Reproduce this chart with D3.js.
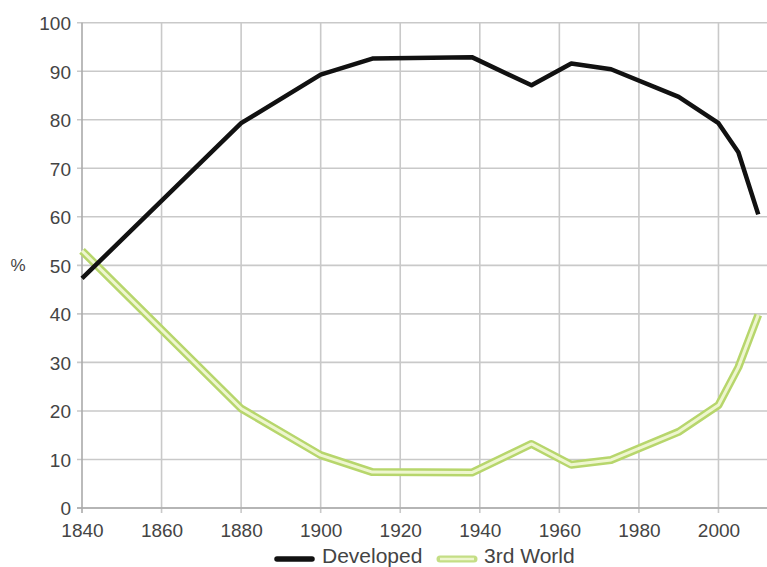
<!DOCTYPE html>
<html>
<head>
<meta charset="utf-8">
<script src="https://cdn.jsdelivr.net/npm/d3@7"></script>
<style>
  html, body { margin: 0; padding: 0; background: #fff; }
  svg { display: block; }
  text { font-family: "Liberation Sans", Arial, sans-serif; fill: #444; }
</style>
</head>
<body>
<svg id="chart" width="767" height="567"></svg>
<script>
// Data
const years     = [1840, 1880, 1900, 1913, 1938, 1953, 1963, 1973, 1990, 2000, 2005, 2010];
const developed = [47.3, 79.3, 89.3, 92.6, 92.9, 87.1, 91.6, 90.4, 84.7, 79.3, 73.3, 60.5];
const thirdWorld= [53.0, 20.5, 10.9, 7.4, 7.3, 13.2, 8.9, 9.9, 15.7, 21.2, 29.0, 39.8];
const xTicks    = [1840, 1860, 1880, 1900, 1920, 1940, 1960, 1980, 2000];
const yTicks    = [0, 10, 20, 30, 40, 50, 60, 70, 80, 90, 100];
const seriesNames = ["Developed", "3rd World"];

const svg = d3.select("#chart");
const pL = 82, pR = 767, pT = 22.7, pB = 508;

const x = d3.scaleLinear().domain([1840, 2012.2]).range([pL, pR]);
const y = d3.scaleLinear().domain([0, 100]).range([pB, pT]);

// grid
const grid = svg.append("g");
grid.selectAll("line.h").data(yTicks).join("line")
  .attr("x1", pL - 5).attr("x2", pR)
  .attr("y1", d => y(d)).attr("y2", d => y(d))
  .attr("stroke", "#c9c9c9").attr("stroke-width", 1.6);
grid.selectAll("line.v").data(xTicks).join("line")
  .attr("x1", d => x(d)).attr("x2", d => x(d))
  .attr("y1", pT).attr("y2", pB + 5)
  .attr("stroke", d => d === 1840 ? "#aaa" : "#c9c9c9").attr("stroke-width", 1.6);
grid.append("line").attr("x1", pL - 5).attr("x2", pR)
  .attr("y1", y(0)).attr("y2", y(0)).attr("stroke", "#aaa").attr("stroke-width", 1.6);

// axis labels
const yAxis = d3.axisLeft(y).tickValues(yTicks).tickSize(0).tickPadding(11);
const gy = svg.append("g").attr("transform", `translate(${pL},0)`).call(yAxis);
gy.select(".domain").remove();
gy.selectAll("text").style("font-size", "19px").attr("fill", "#444").attr("dy", "0.36em");

const xAxis = d3.axisBottom(x).tickValues(xTicks).tickFormat(d3.format("d")).tickSize(0).tickPadding(16);
const gx = svg.append("g").attr("transform", `translate(0,${pB})`).call(xAxis);
gx.select(".domain").remove();
gx.selectAll("text").style("font-size", "19px").attr("fill", "#444");

svg.append("text").attr("x", 18).attr("y", y(50)).attr("dy", "0.36em")
  .attr("text-anchor", "middle").style("font-size", "17px").text("%");

// lines
const line = d3.line().x(d => x(d[0])).y(d => y(d[1]));
const dataDev = years.map((yr, i) => [yr, developed[i]]);
const data3rd = years.map((yr, i) => [yr, thirdWorld[i]]);

svg.append("path").datum(data3rd).attr("d", line).attr("fill", "none")
  .attr("stroke", "#b7d66c").attr("stroke-width", 8).attr("stroke-linejoin", "round");
svg.append("path").datum(data3rd).attr("d", line).attr("fill", "none")
  .attr("stroke", "#eef6cf").attr("stroke-width", 3).attr("stroke-linejoin", "round");
svg.append("path").datum(dataDev).attr("d", line).attr("fill", "none")
  .attr("stroke", "#111").attr("stroke-width", 4.5).attr("stroke-linejoin", "round");

// legend
const lg = svg.append("g");
lg.append("line").attr("x1", 277).attr("x2", 312).attr("y1", 559).attr("y2", 559)
  .attr("stroke", "#111").attr("stroke-width", 5.5).attr("stroke-linecap", "round");
lg.append("text").attr("x", 322).attr("y", 563).style("font-size", "21px").text(seriesNames[0]);
lg.append("line").attr("x1", 440).attr("x2", 474).attr("y1", 559).attr("y2", 559)
  .attr("stroke", "#c4de85").attr("stroke-width", 7).attr("stroke-linecap", "round");
lg.append("line").attr("x1", 440).attr("x2", 474).attr("y1", 559).attr("y2", 559)
  .attr("stroke", "#eef6cf").attr("stroke-width", 2.5);
lg.append("text").attr("x", 484).attr("y", 563).style("font-size", "21px").text(seriesNames[1]);
</script>
</body>
</html>
